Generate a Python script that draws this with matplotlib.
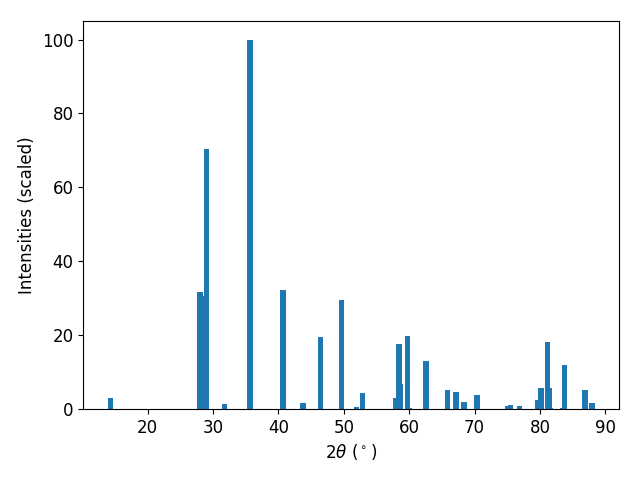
import matplotlib
matplotlib.use("Agg")
import matplotlib.pyplot as plt

# peak positions (2theta, degrees) and scaled intensities
two_theta = [14.27, 28.0, 28.3, 29.0, 31.7, 35.67, 40.71, 43.77, 46.44, 49.65,
             51.9, 52.8, 57.98, 58.45, 58.6, 59.74, 60.1, 62.57, 65.9, 67.15,
             68.37, 70.36, 75.1, 75.45, 76.85, 79.7, 80.14, 81.2, 81.45, 81.6,
             83.5, 83.8, 86.87, 87.94]
intensity = [3.0, 31.7, 30.5, 70.3, 1.4, 100.0, 32.3, 1.6, 19.6, 29.6,
             0.6, 4.3, 3.0, 17.7, 6.8, 19.8, 0.3, 13.0, 5.2, 4.6,
             1.9, 3.8, 0.8, 1.1, 0.8, 2.4, 5.7, 18.2, 5.7, 0.3,
             0.3, 12.0, 5.2, 1.6]

fig, ax = plt.subplots(figsize=(6.4, 4.8), dpi=100)
ax.bar(two_theta, intensity, width=0.8, color="#1f77b4")
ax.set_xlabel(r"$2\theta$ ($^\circ$)", fontsize=12)
ax.set_ylabel("Intensities (scaled)", fontsize=12)
ax.tick_params(labelsize=12)

fig.subplots_adjust(left=0.130, right=0.967, top=0.956, bottom=0.148)
plt.savefig("out.png", dpi=100)
